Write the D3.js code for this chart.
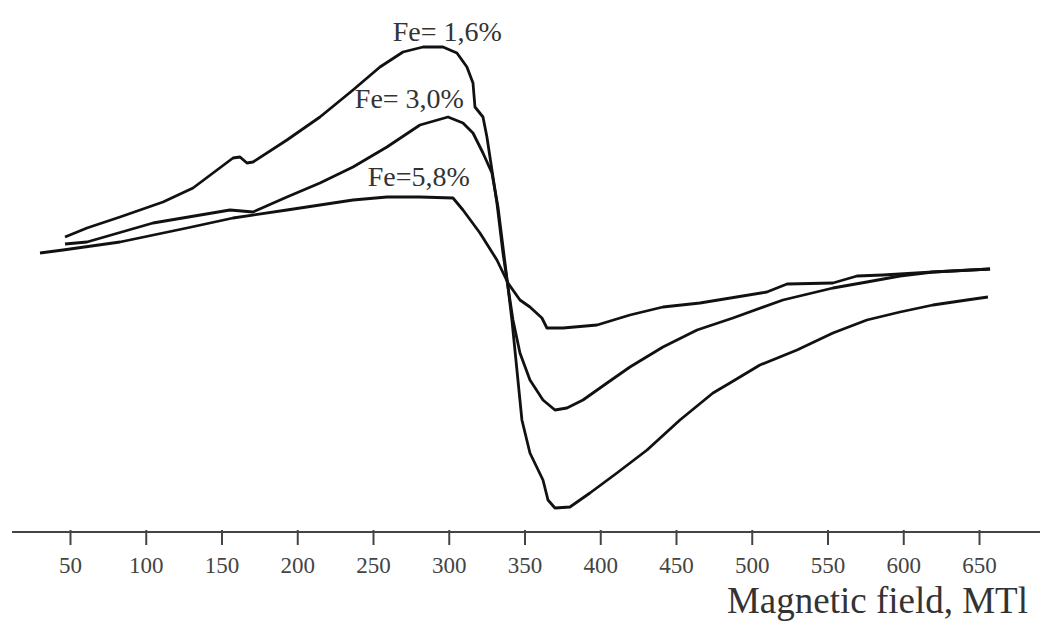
<!DOCTYPE html>
<html>
<head>
<meta charset="utf-8">
<script src="https://cdn.jsdelivr.net/npm/d3@7"></script>
<style>
  html, body { margin: 0; padding: 0; background: #fff; }
  svg { display: block; font-family: "Liberation Serif", "DejaVu Serif", serif; }
</style>
</head>
<body>
<div id="chart"></div>
<script>
// field values (MTl) and signal (arbitrary units)
const fe16Field = [46.7, 61.2, 83, 111.4, 131.2, 144.4, 157.6, 162.2, 166.8, 170.8, 193.2, 215, 236.8, 254.6, 269.8, 283, 296.2, 305.4, 312, 316, 317.3, 322.6, 325.2, 328.5, 331.8, 335.8, 339.1, 341.7, 345, 348.3, 353.6, 362.2, 365.5, 370.1, 380, 393.2, 411, 430.9, 452.6, 474.4, 485.6, 505.4, 529.9, 553.6, 576, 597.9, 619.6, 642, 655.9];
const fe16Signal = [53, 62, 73, 88, 102, 117, 132, 133, 127, 128, 150, 173, 200, 223, 238, 243, 243, 237, 223, 207, 183, 173, 153, 120, 87, 37, 3, -30, -80, -130, -163, -190, -210, -218, -217, -203, -183, -160, -130, -103, -93, -75, -60, -43, -30, -22, -15, -10, -7];

const fe30Field = [46.7, 61.2, 104.8, 155.6, 170.8, 193.2, 215, 236.8, 259.2, 281, 299.5, 309.4, 316, 322.6, 328.5, 332.5, 335.8, 339.1, 342.4, 347, 353.6, 362.2, 370.1, 378, 388.6, 404.5, 419.6, 441.4, 463.9, 487.6, 520.6, 553.6, 576, 597.9, 619.6, 657.3];
const fe30Signal = [46, 48, 67, 80, 78, 93, 107, 123, 143, 165, 173, 167, 157, 137, 117, 83, 43, 3, -30, -63, -90, -110, -120, -118, -110, -93, -77, -57, -40, -28, -10, 2, 8, 14, 18, 21];

const fe58Field = [30.2, 45.4, 83, 127.2, 157.6, 193.2, 236.8, 259.2, 281, 302.8, 309.4, 320.6, 331.8, 339.1, 347, 353.6, 361.5, 364.8, 375.4, 397.9, 419.6, 441.4, 465.8, 510, 523.3, 553.6, 569.5, 586.6, 619.6, 657.3];
const fe58Signal = [37, 40, 48, 62, 72, 80, 90, 93, 93, 92, 80, 57, 30, 7, -10, -17, -28, -38, -38, -35, -25, -17, -13, -2, 6, 7, 14, 15, 18, 21];

const fieldTicks = [50, 100, 150, 200, 250, 300, 350, 400, 450, 500, 550, 600, 650];
const curveLabels = ["Fe= 1,6%", "Fe= 3,0%", "Fe=5,8%"];
const labelField = [263, 238, 246.5];
const labelSignal = [249, 182, 104];

const width = 1040, height = 622;
const axisY = 532;

const svg = d3.select("#chart").append("svg")
  .attr("width", width)
  .attr("height", height);

const x = d3.scaleLinear().domain([50, 650]).range([70, 979]);
const y = d3.scaleLinear().domain([-230, 250]).range([520, 40]);

// baseline axis spans the whole width
svg.append("line")
  .attr("x1", 12).attr("x2", width)
  .attr("y1", axisY).attr("y2", axisY)
  .attr("stroke", "#444")
  .attr("stroke-width", 2);

const axis = svg.append("g")
  .attr("transform", `translate(0,${axisY})`)
  .call(d3.axisBottom(x).tickValues(fieldTicks).tickSize(13).tickPadding(12).tickFormat(d3.format("d")));
axis.select(".domain").remove();
axis.selectAll(".tick line")
  .attr("stroke", "#444")
  .attr("stroke-width", 2)
  .attr("y1", -2);
axis.selectAll(".tick text")
  .attr("fill", "#444")
  .style("font-family", "'Liberation Serif', serif")
  .style("font-size", "23px");

svg.append("text")
  .attr("x", 1028)
  .attr("y", 613)
  .attr("text-anchor", "end")
  .attr("fill", "#333")
  .style("font-size", "37px")
  .text("Magnetic field, MTl");

const series = [
  { field: fe16Field, signal: fe16Signal },
  { field: fe30Field, signal: fe30Signal },
  { field: fe58Field, signal: fe58Signal }
];

const line = d3.line()
  .x(d => x(d[0]))
  .y(d => y(d[1]));

series.forEach(s => {
  svg.append("path")
    .datum(d3.zip(s.field, s.signal))
    .attr("d", line)
    .attr("fill", "none")
    .attr("stroke", "#111")
    .attr("stroke-width", 2.8)
    .attr("stroke-linejoin", "round");
});

curveLabels.forEach((t, i) => {
  svg.append("text")
    .attr("x", x(labelField[i]))
    .attr("y", y(labelSignal[i]))
    .attr("fill", "#333")
    .style("font-size", "28px")
    .text(t);
});
</script>
</body>
</html>
